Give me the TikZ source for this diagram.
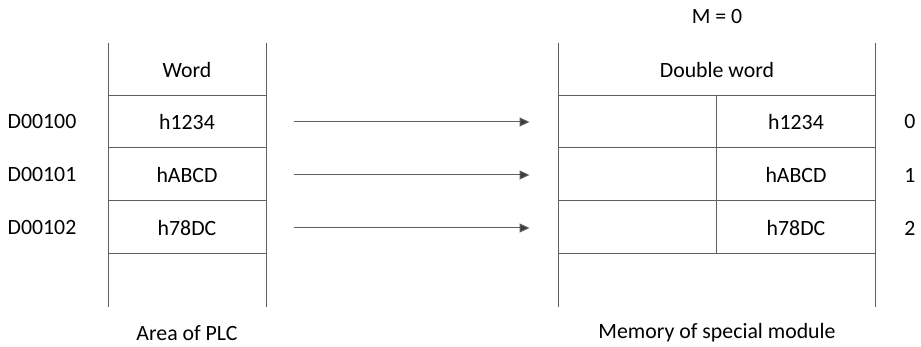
\documentclass[tikz,border=0pt]{standalone}
\usepackage{fontspec}
\setmainfont{Carlito}
\usetikzlibrary{arrows.meta,positioning}
\definecolor{LineGray}{RGB}{95,95,95}
\definecolor{ArrowGray}{RGB}{60,60,60}

\begin{document}
\begin{tikzpicture}[x=0.5pt,y=-0.5pt,line width=0.5pt,
  font=\fontsize{10.9}{13}\selectfont,
  cell/.style={minimum width=79pt,minimum height=26pt,inner sep=0pt},
  half/.style={minimum width=79pt,minimum height=26pt,inner sep=0pt},
  copyarrow/.style={draw=LineGray,-{Triangle[length=5pt,width=4.5pt,fill=ArrowGray]},
    shorten <=13.5pt,shorten >=14pt}]
\useasboundingbox (0,0) rectangle (921,347);
% area of PLC
\draw[LineGray] (108,43)--(108,307);
\draw[LineGray] (266,43)--(266,307);
\foreach \y in {96,148,201,254} \draw[LineGray] (108,\y)--(266,\y);
\node (word) at (187,70) {Word};
\node[cell] (w0) at (187,122) {h1234};
\node[cell] (w1) at (187,175) {hABCD};
\node[cell] (w2) at (187,228) {h78DC};
\node (a0) at (42,122) {D00100};
\node (a1) at (42,175) {D00101};
\node (a2) at (42,228) {D00102};
\node (plc) at (187,333) {Area of PLC};
% memory of special module
\draw[LineGray] (558,43)--(558,307);
\draw[LineGray] (875,43)--(875,307);
\draw[LineGray] (716,96)--(716,254);
\foreach \y in {96,148,201,254} \draw[LineGray] (558,\y)--(875,\y);
\node (m) at (717,17) {M = 0};
\node (dword) at (717,70) {Double word};
\node[half] (hi0) at (637,122) {};
\node[half] (hi1) at (637,175) {};
\node[half] (hi2) at (637,228) {};
\node[half] (lo0) at (796,122) {h1234};
\node[half] (lo1) at (796,175) {hABCD};
\node[half] (lo2) at (796,228) {h78DC};
\node (i0) at (910,122) {0};
\node (i1) at (910,175) {1};
\node (i2) at (910,228) {2};
\node (mem) at (717,333) {Memory of special module};
% copy
\foreach \i in {0,1,2} \draw[copyarrow] (w\i.east)--(hi\i.west);
\end{tikzpicture}
\end{document}
